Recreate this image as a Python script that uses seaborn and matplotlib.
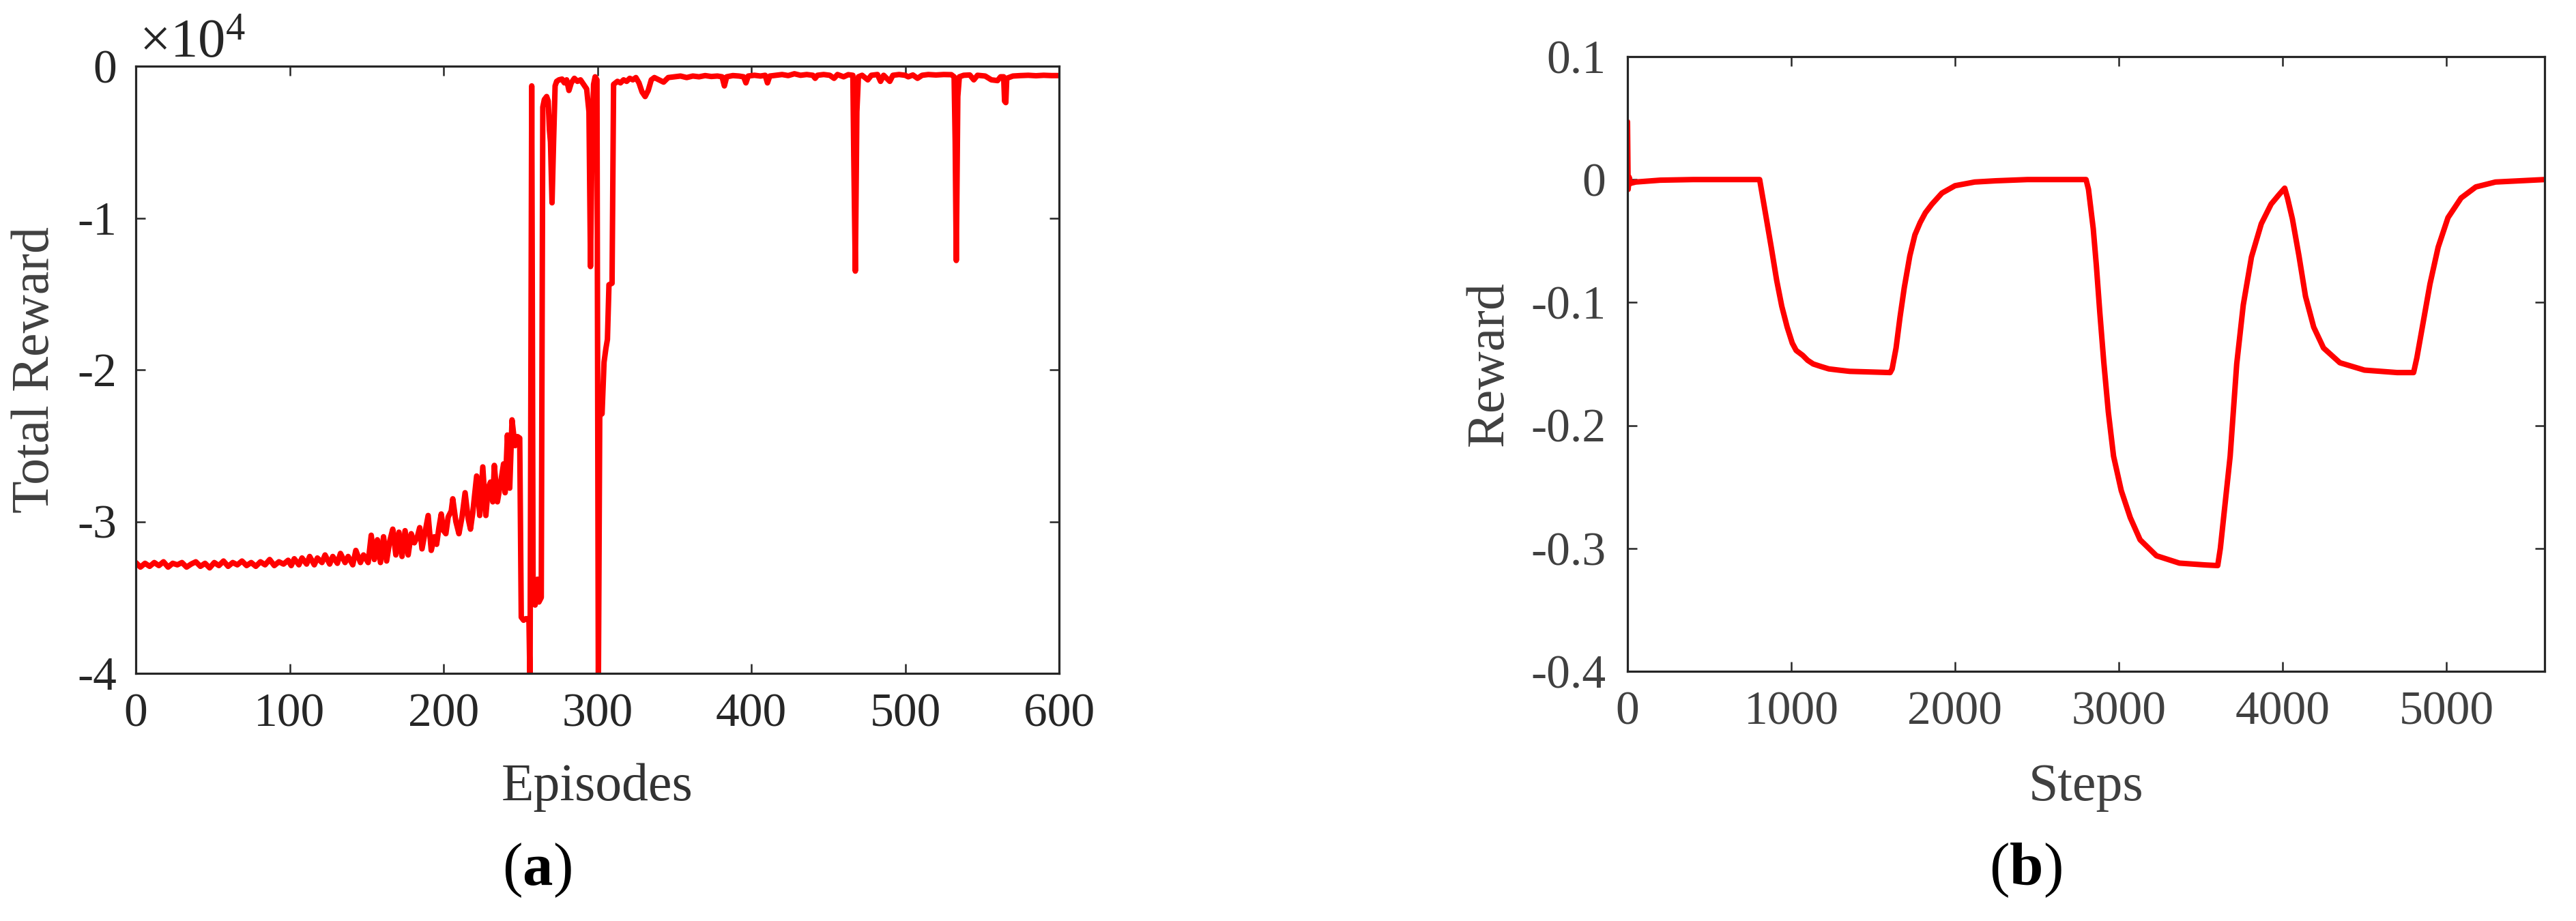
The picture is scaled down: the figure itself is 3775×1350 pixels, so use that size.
import matplotlib
matplotlib.use("Agg")
import matplotlib.pyplot as plt
import seaborn as sns
from matplotlib.ticker import FuncFormatter, FixedLocator

# ---------------- data: (a) training curve ----------------
episodes = [
    0, 3, 6, 9, 12, 15, 18, 21, 24, 27, 30, 33, 36, 39, 42, 45, 48, 51, 54, 57,
    60, 63, 66, 69, 72, 75, 78, 81, 84, 87, 90, 93, 96, 99,
    101, 103, 106, 108, 111, 113, 116, 118, 121, 123, 126, 128, 131, 133, 136, 138,
    141, 143, 146, 148,
    151, 153, 155, 157, 159, 161, 163, 165, 167, 169, 171, 173, 175, 177, 179, 181,
    183, 184.5, 186, 188, 190, 192, 194, 195.5, 197, 198.5, 200, 201.5, 203, 205, 206,
    208, 210, 212, 214, 216, 217.5, 219, 221.5, 223.5, 225.5, 227.5, 229, 230.5, 232,
    233, 235, 237, 239, 240, 241.5, 243, 244.5, 245.5, 246.5, 248, 249.5,
    250.5, 252, 253.5, 255.5, 256.2, 257.3, 258.2, 259.5, 261, 262, 263.5,
    264.5, 265.5, 267, 268, 268.8, 269.5, 270.5, 271.5, 272.5, 273.5, 275, 277,
    278.5, 280, 281.5, 283, 285, 287, 289, 291, 293, 294.5, 295.5, 296.5, 297.5,
    298.5, 299.7, 300.6, 301.5, 303, 304.3, 305.5, 306.5, 307.5, 309.5, 310.5,
    313, 315, 317, 319, 321, 323, 325, 327, 329, 331, 333, 335, 337, 340, 343, 346,
    350, 354, 358, 362, 366, 370, 374, 378, 381, 382.5, 384, 388, 392, 395, 396.5,
    398, 402, 406, 409, 410.5, 412, 416, 420, 424, 428, 432, 436, 440, 441.5, 443,
    447, 451, 453.8, 456, 460, 463, 466, 466.6, 467.6, 468.6, 469.6, 472, 475.7,
    478, 482, 484, 486, 490, 492, 496, 500, 502, 505, 508, 511, 515, 520, 525, 530,
    531.8, 532.5, 533.2, 534.2, 535.2, 538, 542, 544.6, 547, 552, 556, 560, 562,
    564, 564.6, 565.4, 566, 570, 575, 580, 585, 590, 595, 600,
]
total_reward = [
    -32700, -33000, -32750, -32950, -32700, -32900, -32650, -33000, -32750, -32850,
    -32700, -33000, -32800, -32650, -32950, -32750, -33050, -32700, -32900, -32600,
    -32950, -32700, -32850, -32600, -32900, -32700, -32950, -32650, -32850, -32500,
    -32900, -32650, -32800, -32550,
    -32900, -32450, -32850, -32400, -32800, -32300, -32850, -32400, -32700, -32200,
    -32800, -32300, -32750, -32100, -32700, -32300, -32850, -31900, -32700, -32200,
    -32700, -30900, -32500, -31200, -32700, -31000, -32600, -31300, -30500, -32200,
    -30700, -32300, -30600, -32200, -30800, -31400, -31000, -30400, -31800, -30700,
    -29600, -31900, -31000, -31500, -30400, -29500, -30600, -30800, -29700, -29300,
    -28500, -30000, -30800, -29700, -28100, -29800, -30500, -29400, -27000, -29600,
    -26400, -29600, -27800, -27400, -28700, -26300, -28700, -27500, -26200, -28100,
    -24300, -27800, -23300, -24200, -25000, -24400, -24500,
    -36300, -36500, -36400, -36400, -41000, -1300, -35000, -35500, -33800, -35300,
    -35000,
    -2700, -2200, -2000, -2300, -4200, -5000, -9000, -5000, -1300, -1000, -900, -850,
    -1100, -900, -1600, -1100, -800, -1000, -900, -1200, -1500, -3000, -13200, -5000,
    -1200, -700, -900, -41000, -23000, -22900, -19500, -18600, -18000, -14400, -14300,
    -1200,
    -1000, -1100, -900, -1000, -800, -900, -750, -1100, -1700, -2000, -1600, -900,
    -750, -900, -1050, -750,
    -700, -650, -750, -650, -700, -620, -680, -650, -700, -1300, -700, -620, -650,
    -700, -1100, -650, -600, -650, -600, -1100, -650, -600, -550, -620, -500, -600,
    -550, -600, -800, -600, -550, -600, -800, -550, -700, -560, -600, -6000, -13500,
    -3000, -700, -600, -900, -600, -550, -1000, -600, -1000, -600, -550, -600, -700,
    -580, -800, -600, -550, -580, -550, -560, -700, -5000, -12800, -2000, -700, -600,
    -580, -900, -600, -650, -900, -950, -700, -700, -2300, -2400, -800, -650, -620,
    -600, -630, -600, -620, -620,
]

# ---------------- data: (b) reward per step ----------------
steps = [
    0, 4, 10, 20, 50, 100, 200, 400, 807, 847, 879, 911, 942, 975, 1006, 1030,
    1070, 1100, 1134, 1180, 1229, 1290, 1357, 1480, 1604, 1616, 1640, 1664, 1690,
    1724, 1755, 1787, 1819, 1859, 1920, 2000, 2120, 2250, 2442, 2800, 2815, 2844,
    2863, 2884, 2908, 2936, 2968, 3015, 3070, 3130, 3230, 3370, 3530, 3604, 3620,
    3680, 3720, 3760, 3810, 3870, 3930, 3980, 4013, 4030, 4060, 4100, 4140, 4190,
    4250, 4350, 4500, 4700, 4800, 4820, 4860, 4900, 4950, 5010, 5090, 5180, 5300,
    5450, 5600,
]
step_reward = [
    0.047, -0.008, 0.002, -0.003, -0.002, -0.0015, -0.0005, 0.0, 0.0, -0.031, -0.056,
    -0.082, -0.103, -0.120, -0.133, -0.139, -0.143, -0.147, -0.150, -0.152, -0.154,
    -0.155, -0.156, -0.1565, -0.157, -0.154, -0.137, -0.112, -0.088, -0.062, -0.045,
    -0.035, -0.027, -0.020, -0.011, -0.005, -0.002, -0.001, 0.0, 0.0, -0.008, -0.040,
    -0.070, -0.108, -0.148, -0.189, -0.225, -0.253, -0.275, -0.293, -0.306, -0.312,
    -0.3135, -0.314, -0.300, -0.225, -0.150, -0.102, -0.063, -0.036, -0.020, -0.012,
    -0.007, -0.015, -0.032, -0.062, -0.095, -0.120, -0.137, -0.149, -0.155, -0.157,
    -0.157, -0.145, -0.115, -0.085, -0.055, -0.031, -0.015, -0.006, -0.002, -0.001,
    0.0,
]

xticks_a = [0, 100, 200, 300, 400, 500, 600]
yticks_a = [-40000, -30000, -20000, -10000, 0]
xticks_b = [0, 1000, 2000, 3000, 4000, 5000]
yticks_b = [-0.4, -0.3, -0.2, -0.1, 0.0, 0.1]

# ---------------- style ----------------
sns.set_style("ticks")
plt.rcParams["font.family"] = ["Liberation Serif", "DejaVu Serif"]
plt.rcParams["mathtext.fontset"] = "custom"
plt.rcParams["mathtext.rm"] = "Liberation Serif"
plt.rcParams["mathtext.bf"] = "Liberation Serif:bold"

W, H = 3775, 1350
fig = plt.figure(figsize=(W / 100, H / 100), dpi=100)
fig.patch.set_facecolor("white")

axA = fig.add_axes([199 / W, 1 - 987 / H, 1353 / W, 890 / H])
axB = fig.add_axes([2385 / W, 1 - 984 / H, 1344 / W, 901 / H])

RED = "#ff0000"
sns.lineplot(x=episodes, y=total_reward, ax=axA, color=RED, linewidth=5.8,
             estimator=None, sort=False)
sns.lineplot(x=steps, y=step_reward, ax=axB, color=RED, linewidth=5.8,
             estimator=None, sort=False)

SPINE = "#262626"
for ax, tcol, pad_y in ((axA, "#262626", 20), (axB, "#404040", 23)):
    for s in ax.spines.values():
        s.set_visible(True)
        s.set_color(SPINE)
        s.set_linewidth(2.3)
    ax.set_facecolor("white")
    ax.grid(False)
    ax.tick_params(axis="both", which="major", direction="in", length=10,
                   width=1.8, color=SPINE, labelcolor=tcol, labelsize=50,
                   top=True, right=True)
    ax.tick_params(axis="x", pad=21)
    ax.tick_params(axis="y", pad=pad_y)

# (a)
axA.set_xlim(0, 600)
axA.set_ylim(-40000, 0)
axA.xaxis.set_major_locator(FixedLocator(xticks_a))
axA.yaxis.set_major_locator(FixedLocator(yticks_a))
axA.xaxis.set_major_formatter(FuncFormatter(lambda v, p: f"{v:g}"))
axA.yaxis.set_major_formatter(FuncFormatter(lambda v, p: f"{v / 1e4:g}"))
axA.set_xlabel("Episodes", fontsize=56, color="#333333")
axA.set_ylabel("Total Reward", fontsize=56, color="#404040")
axA.xaxis.label.set_va("baseline")
axA.xaxis.set_label_coords(0.5, (987 - 1173) / 890)
axA.yaxis.label.set_va("center")
axA.yaxis.set_label_coords((52 - 199) / 1353, 0.5)
fig.text(204 / W, 1 - 84 / H, r"$\mathregular{\times10^{4}}$", fontsize=58,
         ha="left", va="baseline", color="#262626")

# (b)
axB.set_xlim(0, 5600)
axB.set_ylim(-0.4, 0.1)
axB.xaxis.set_major_locator(FixedLocator(xticks_b))
axB.yaxis.set_major_locator(FixedLocator(yticks_b))
axB.xaxis.set_major_formatter(FuncFormatter(lambda v, p: f"{v:g}"))
axB.yaxis.set_major_formatter(FuncFormatter(lambda v, p: "0" if abs(v) < 1e-9 else f"{v:.1f}"))
axB.set_xlabel("Steps", fontsize=56, color="#404040")
axB.set_ylabel("Reward", fontsize=56, color="#404040")
axB.xaxis.label.set_va("baseline")
axB.xaxis.set_label_coords(0.5, (984 - 1173) / 901)
axB.yaxis.label.set_va("center")
axB.yaxis.set_label_coords((2183 - 2385) / 1344, 0.5)

# captions
fig.text(787 / W, 1 - 1297 / H, r"($\mathbf{a}$)", fontsize=64, ha="center",
         va="baseline", color="black")
fig.text(2968 / W, 1 - 1297 / H, r"($\mathbf{b}$)", fontsize=64, ha="center",
         va="baseline", color="black")

fig.savefig("out.png", dpi=100, facecolor="white")
